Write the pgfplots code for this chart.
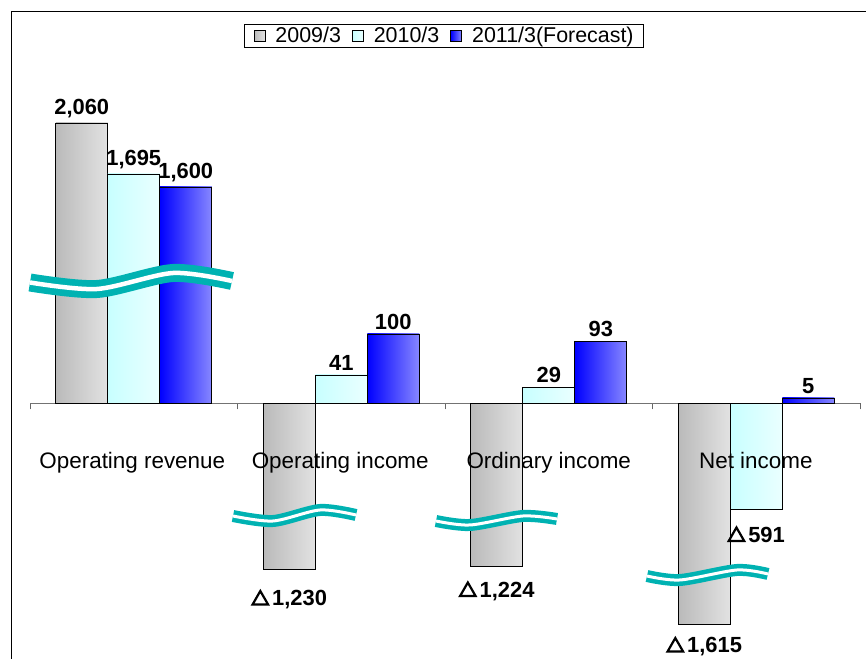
\documentclass[border=0pt]{standalone}
\usepackage{fontspec}
\setmainfont{Liberation Sans}
\usepackage{pgfplots}
\pgfplotsset{compat=1.18}
\definecolor{tealbrk}{RGB}{0,178,178}
\definecolor{grayL}{RGB}{186,186,186}
\definecolor{grayR}{RGB}{226,226,226}
\definecolor{cyanL}{RGB}{200,255,255}
\definecolor{cyanR}{RGB}{234,255,255}
\definecolor{blueL}{RGB}{0,0,255}
\definecolor{blueR}{RGB}{135,135,255}
\DeclareRobustCommand\tri{\begin{pgfpicture}%
  \pgfsetlinewidth{2.2bp}\pgfsetmiterjoin\pgfsetstrokecolor{black}%
  \pgfpathmoveto{\pgfpoint{1.1bp}{1.1bp}}%
  \pgfpathlineto{\pgfpoint{16.5bp}{1.1bp}}%
  \pgfpathlineto{\pgfpoint{8.8bp}{14.5bp}}%
  \pgfpathclose\pgfusepath{stroke}%
  \end{pgfpicture}\hspace{3bp}}
\pgfplotsset{
  s1/.style={draw=black, line width=0.9bp, left color=grayL, right color=grayR, bar shift=-52bp},
  s2/.style={draw=black, line width=0.9bp, left color=cyanL, right color=cyanR, bar shift=0bp},
  s3/.style={draw=black, line width=0.9bp, left color=blueL, right color=blueR, bar shift=52bp},
  pos/.style={every node near coord/.append style={anchor=south, yshift=1bp}},
  neg/.style={every node near coord/.append style={anchor=north, yshift=#1}},
  neg/.default=-13bp,
}

\begin{document}
\begin{tikzpicture}
\useasboundingbox (0,0) rectangle (866bp,659bp);
\begin{axis}[
  at={(30bp,0bp)}, anchor=south west,
  scale only axis, width=830bp, height=659bp,
  xmin=-0.5, xmax=3.5, ymin=-255.5, ymax=403.5,
  axis x line=middle, axis y line=none,
  axis line style={-, draw=gray!90!black, line width=1bp},
  xtick={-0.5,0.5,1.5,2.5,3.5}, xticklabels={},
  tick align=inside, major tick length=6bp,
  tick style={draw=gray!80!black, line width=0.8bp},
  ytick=\empty,
  ybar, bar width=52bp,
  clip=false,
  point meta=explicit symbolic,
  nodes near coords,
  every node near coord/.append style={font=\fontsize{22}{26}\selectfont\bfseries, text=black},
  legend columns=3,
  legend style={at={(0.499,0.946)}, anchor=center, draw=black, line width=0.8bp,
    font=\fontsize{21.5}{25}\selectfont, inner xsep=9bp, inner ysep=1bp,
    nodes={inner xsep=1bp},
    /tikz/every odd column/.append style={column sep=9bp},
    /tikz/every even column/.append style={column sep=10bp}},
  legend image code/.code={\draw[#1, line width=0.8bp] (0bp,-5.5bp) rectangle (11bp,5.5bp);},
]
% 2009/3, 2010/3, 2011/3 (legend entries)
\addplot[s1, pos] coordinates {(0,280.5) [2,060]};
\addplot[s2, pos] coordinates {(0,229.5) [1,695]};
\addplot[s3, pos] coordinates {(0,216.5) [1,600]};
% 2009/3
\addplot[s1, neg=-16bp, forget plot] coordinates {(1,-166) [\tri1,230]};
\addplot[s1, neg=-11bp, forget plot] coordinates {(2,-162.5) [\tri1,224]};
\addplot[s1, neg=-8bp, forget plot] coordinates {(3,-221) [\tri1,615]};
% 2010/3
\addplot[s2, pos, forget plot] coordinates {(1,28.5) [41]};
\addplot[s2, pos, forget plot] coordinates {(2,16) [29]};
\addplot[s2, neg, forget plot] coordinates {(3,-105.5) [\tri591]};
% 2011/3 (Forecast)
\addplot[s3, pos, forget plot] coordinates {(1,69.5) [100]};
\addplot[s3, pos, forget plot] coordinates {(2,62) [93]};
\addplot[s3, pos, forget plot] coordinates {(3,5.5) [5]};
\legend{2009/3, 2010/3, 2011/3(Forecast)}
\node[anchor=base, font=\fontsize{22.5}{26}\selectfont] at (axis cs:-0.007,-65.5) {Operating revenue};
\node[anchor=base, font=\fontsize{22.5}{26}\selectfont] at (axis cs:0.995,-65.5) {Operating income};
\node[anchor=base, font=\fontsize{22.5}{26}\selectfont] at (axis cs:2.0,-65.5) {Ordinary income};
\node[anchor=base, font=\fontsize{22.5}{26}\selectfont] at (axis cs:2.998,-65.5) {Net income};
\end{axis}
\begin{scope}[shift={(0,659bp)}, x=1bp, y=-1bp]
  \draw[black, line width=1.3bp] (11.5,659) -- (11.5,11.5) -- (866,11.5);
  \draw[tealbrk, line width=18bp] plot[smooth] coordinates {(30,282.5) (97,289) (173,273) (232,281)};
  \draw[white, line width=4.5bp] plot[smooth] coordinates {(30,282.5) (97,289) (173,273) (232,281)};
  \draw[tealbrk, line width=12bp] plot[smooth] coordinates {(233,516) (273,521) (320,510) (356,515)};
  \draw[white, line width=3bp] plot[smooth] coordinates {(233,516) (273,521) (320,510) (356,515)};
  \draw[tealbrk, line width=12bp] plot[smooth] coordinates {(436,521) (470,525) (523,516) (557,519)};
  \draw[white, line width=3bp] plot[smooth] coordinates {(436,521) (470,525) (523,516) (557,519)};
  \draw[tealbrk, line width=12bp] plot[smooth] coordinates {(647,576) (680,580) (737,570) (768,574)};
  \draw[white, line width=3bp] plot[smooth] coordinates {(647,576) (680,580) (737,570) (768,574)};
\end{scope}
\end{tikzpicture}
\end{document}
